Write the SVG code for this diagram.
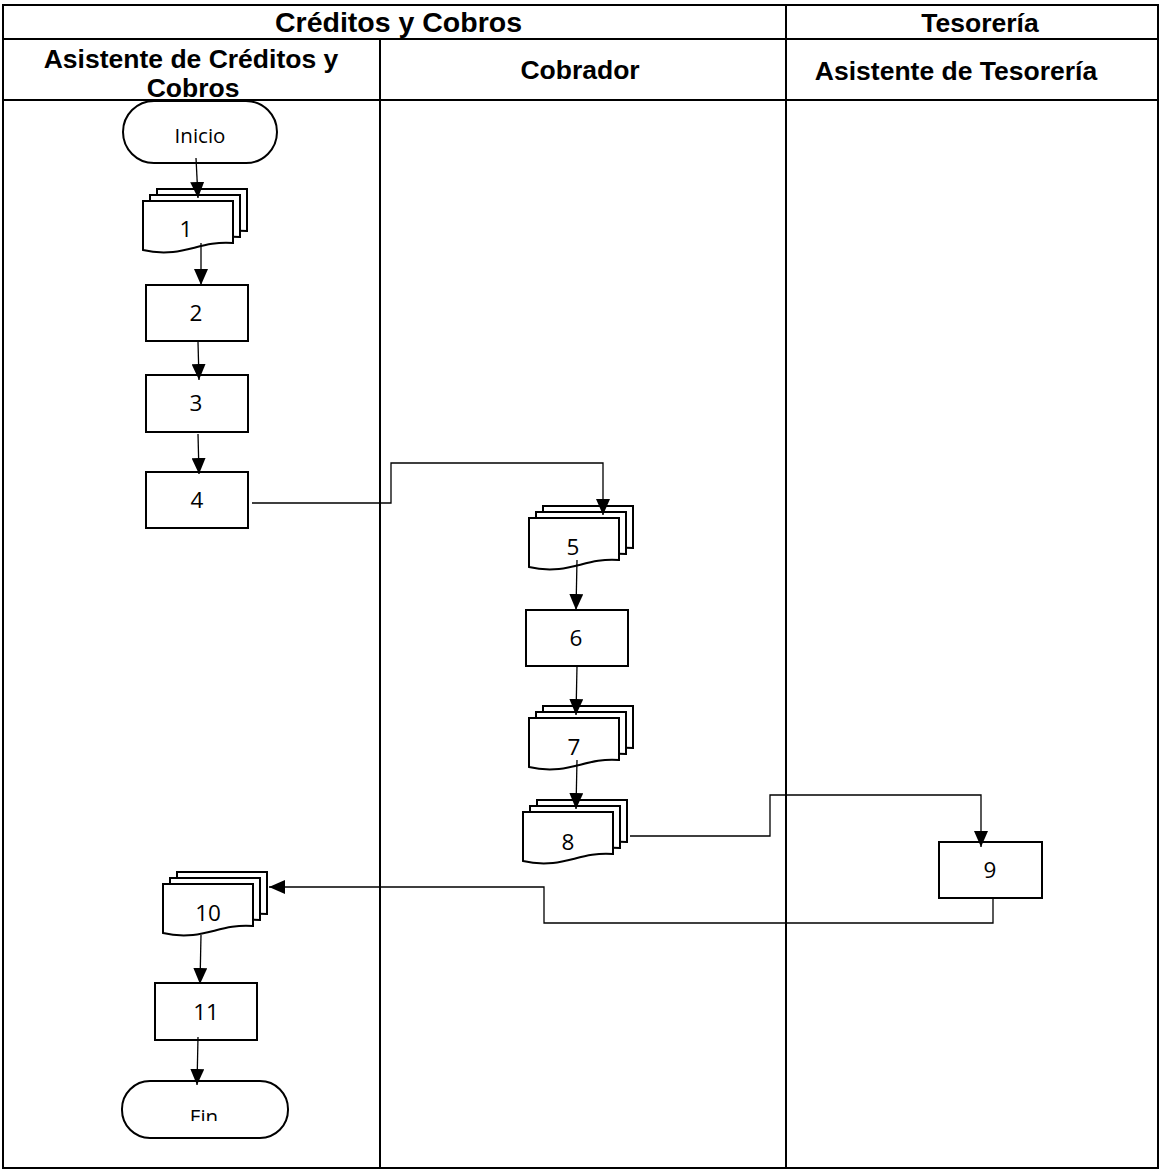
<svg xmlns="http://www.w3.org/2000/svg" xmlns:xlink="http://www.w3.org/1999/xlink" width="1161" height="1170" viewBox="0 0 1161 1170">
<style>
.hdr{font-family:"Liberation Sans",Arial,sans-serif;font-weight:bold;font-size:26.5px;fill:#000;text-anchor:middle}
.lbl{font-family:"Open Sans","Noto Sans",sans-serif;font-size:22.5px;fill:#000;text-anchor:middle}
.term{font-family:"Open Sans","Noto Sans",sans-serif;font-size:20.5px;fill:#000;text-anchor:middle}
.grid{stroke:#000;stroke-width:2;fill:none}
.box{fill:#fff;stroke:#000;stroke-width:2}
.page{fill:#fff;stroke:#000;stroke-width:2}
.con{fill:none;stroke:#000;stroke-width:1.3}
</style>
<defs>
<marker id="arr" viewBox="0 0 16 14" refX="16" refY="7" markerWidth="16" markerHeight="14" markerUnits="userSpaceOnUse" orient="auto">
<path d="M0,0 L16,7 L0,14 Z" fill="#000"/>
</marker>
<path id="pg" d="M0,0 H90 V42 C65,40 50,49 30,51 C18,52 8,51 0,49 Z"/>
<g id="multidoc">
<use xlink:href="#pg" href="#pg" class="page" transform="translate(14,-12)"/>
<use xlink:href="#pg" href="#pg" class="page" transform="translate(7,-6)"/>
<use xlink:href="#pg" href="#pg" class="page"/>
</g>
<clipPath id="finclip"><rect x="120" y="1080" width="170" height="41"/></clipPath>
</defs>
<rect width="1161" height="1170" fill="#fff"/>
<g id="table">
<rect class="grid" x="3" y="5" width="1155" height="1163"/>
<line class="grid" x1="3" y1="39" x2="1158" y2="39"/>
<line class="grid" x1="3" y1="100" x2="1158" y2="100"/>
<line class="grid" x1="786" y1="5" x2="786" y2="1168"/>
<line class="grid" x1="380" y1="39" x2="380" y2="1168"/>
<text class="hdr" x="398.5" y="32" style="font-size:28.5px">Créditos y Cobros</text>
<text class="hdr" x="980" y="32">Tesorería</text>
<text class="hdr" x="191" y="68">Asistente de Créditos y</text>
<text class="hdr" x="193" y="97">Cobros</text>
<text class="hdr" x="580" y="79">Cobrador</text>
<text class="hdr" x="956" y="80">Asistente de Tesorería</text>
</g>
<g id="inicio">
<rect class="box" x="123" y="101" width="154" height="62" rx="31"/>
<text class="term" x="200" y="143">Inicio</text>
</g>
<g id="n1">
<use xlink:href="#multidoc" href="#multidoc" transform="translate(143,201)"/>
<text class="lbl" x="186" y="237">1</text>
</g>
<g id="n2">
<rect class="box" x="146" y="285" width="102" height="56"/>
<text class="lbl" x="196" y="321">2</text>
</g>
<g id="n3">
<rect class="box" x="146" y="375" width="102" height="57"/>
<text class="lbl" x="196" y="411">3</text>
</g>
<g id="n4">
<rect class="box" x="146" y="472" width="102" height="56"/>
<text class="lbl" x="197" y="508">4</text>
</g>
<g id="n5">
<use xlink:href="#multidoc" href="#multidoc" transform="translate(529,518)"/>
<text class="lbl" x="573" y="555">5</text>
</g>
<g id="n6">
<rect class="box" x="526" y="610" width="102" height="56"/>
<text class="lbl" x="576" y="646">6</text>
</g>
<g id="n7">
<use xlink:href="#multidoc" href="#multidoc" transform="translate(529,718)"/>
<text class="lbl" x="574" y="755">7</text>
</g>
<g id="n8">
<use xlink:href="#multidoc" href="#multidoc" transform="translate(523,812)"/>
<text class="lbl" x="568" y="850">8</text>
</g>
<g id="n9">
<rect class="box" x="939" y="842" width="103" height="56"/>
<text class="lbl" x="990" y="878">9</text>
</g>
<g id="n10">
<use xlink:href="#multidoc" href="#multidoc" transform="translate(163,884)"/>
<text class="lbl" x="208" y="921">10</text>
</g>
<g id="n11">
<rect class="box" x="155" y="983" width="102" height="57"/>
<text class="lbl" x="206" y="1020">11</text>
</g>
<g id="fin">
<rect class="box" x="122" y="1081" width="166" height="57" rx="28"/>
<text class="term" x="204" y="1124" clip-path="url(#finclip)">Fin</text>
</g>
<g id="connectors">
<line class="con" x1="196" y1="158" x2="198" y2="198" marker-end="url(#arr)"/>
<line class="con" x1="201" y1="243" x2="201" y2="285" marker-end="url(#arr)"/>
<line class="con" x1="198" y1="342" x2="199" y2="380" marker-end="url(#arr)"/>
<line class="con" x1="198" y1="434" x2="199" y2="474" marker-end="url(#arr)"/>
<polyline class="con" points="252,503 391,503 391,463 603,463 603,515" marker-end="url(#arr)"/>
<line class="con" x1="577" y1="560" x2="576" y2="610" marker-end="url(#arr)"/>
<line class="con" x1="577" y1="666" x2="576" y2="715" marker-end="url(#arr)"/>
<line class="con" x1="577" y1="760" x2="576" y2="809" marker-end="url(#arr)"/>
<polyline class="con" points="630,836 770,836 770,795 981,795 981,847" marker-end="url(#arr)"/>
<polyline class="con" points="993,898 993,923 544,923 544,887 269,887" marker-end="url(#arr)"/>
<line class="con" x1="201" y1="935" x2="200" y2="984" marker-end="url(#arr)"/>
<line class="con" x1="198" y1="1037" x2="197" y2="1085" marker-end="url(#arr)"/>
</g>
</svg>
